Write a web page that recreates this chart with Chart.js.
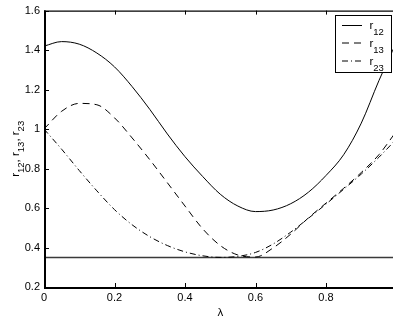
<!DOCTYPE html>
<html><head><meta charset="utf-8">
<script src="https://cdn.jsdelivr.net/npm/chart.js@4/dist/chart.umd.min.js"></script>
<style>html,body{margin:0;padding:0;background:#fff;overflow:hidden}</style>
</head><body>
<canvas id="c" width="393" height="320"></canvas>
<script>
const lambda = [0,0.05,0.1,0.15,0.2,0.25,0.3,0.35,0.4,0.45,0.5,0.55,0.6,0.65,0.7,0.75,0.8,0.85,0.9,0.95,1.0];
const r12 = [1.42,1.443,1.43,1.385,1.315,1.215,1.1,0.975,0.86,0.76,0.67,0.61,0.582,0.59,0.622,0.68,0.765,0.87,1.03,1.245,1.44];
const r13 = [1.0,1.09,1.13,1.123,1.057,0.955,0.845,0.728,0.61,0.495,0.41,0.362,0.352,0.398,0.468,0.55,0.625,0.70,0.78,0.87,0.99];
const r23 = [1.0,0.898,0.79,0.687,0.592,0.515,0.455,0.41,0.378,0.358,0.35,0.355,0.375,0.418,0.478,0.548,0.62,0.695,0.772,0.857,0.95];
const thresholdX = [0, 1];
const thresholdY = [0.35, 0.35];
const xTicks = [0, 0.2, 0.4, 0.6, 0.8];
const xTickLabels = ['0', '0.2', '0.4', '0.6', '0.8'];
const yTicks = [0.2, 0.4, 0.6, 0.8, 1.0, 1.2, 1.4, 1.6];
const yTickLabels = ['0.2', '0.4', '0.6', '0.8', '1', '1.2', '1.4', '1.6'];
const seriesNames = [['r', '12'], ['r', '13'], ['r', '23']];
const xTitle = 'λ';

const FONT = '"Liberation Sans", Arial, Helvetica, sans-serif';
const dashes = [[], [7, 5], [6, 3, 1, 3]];
const seriesData = [r12, r13, r23];

const datasets = seriesData.map((s, k) => ({
  label: seriesNames[k].join(''),
  data: lambda.map((x, i) => ({x, y: s[i]})),
  borderColor: '#000', borderWidth: 1, borderDash: dashes[k],
  pointRadius: 0, cubicInterpolationMode: 'monotone', fill: false
}));
datasets.push({
  label: 'threshold',
  data: thresholdX.map((x, i) => ({x, y: thresholdY[i]})),
  borderColor: '#3a3a3a', borderWidth: 1.5, pointRadius: 0, tension: 0, fill: false
});

function drawSub(ctx, parts, x, y, mainSize, subSize, subDrop) {
  let cx = x;
  for (const [txt, sub] of parts) {
    ctx.font = (sub ? subSize : mainSize) + 'px ' + FONT;
    ctx.fillText(txt, cx, y + (sub ? subDrop : 0));
    cx += ctx.measureText(txt).width;
  }
  return cx - x;
}
function measureSub(ctx, parts, mainSize, subSize) {
  let w = 0;
  for (const [txt, sub] of parts) {
    ctx.font = (sub ? subSize : mainSize) + 'px ' + FONT;
    w += ctx.measureText(txt).width;
  }
  return w;
}

const decor = {
  id: 'decor',
  afterDraw(chart) {
    const {ctx, chartArea: a, scales: {x, y}} = chart;
    ctx.save();
    ctx.strokeStyle = '#000';
    ctx.lineWidth = 1.3;
    ctx.beginPath(); ctx.moveTo(a.left, a.top + 0.5); ctx.lineTo(a.right, a.top + 0.5); ctx.stroke();
    ctx.lineWidth = 2;
    ctx.beginPath(); ctx.moveTo(a.left + 1, a.top); ctx.lineTo(a.left + 1, a.bottom + 1); ctx.lineTo(a.right, a.bottom + 1); ctx.stroke();
    ctx.lineWidth = 1;
    ctx.beginPath();
    xTicks.forEach(v => {
      const px = Math.round(x.getPixelForValue(v)) + 0.5;
      ctx.moveTo(px, a.bottom); ctx.lineTo(px, a.bottom - 4);
      ctx.moveTo(px, a.top); ctx.lineTo(px, a.top + 4);
    });
    yTicks.forEach(v => {
      const py = Math.round(y.getPixelForValue(v)) + 0.5;
      ctx.moveTo(a.left, py); ctx.lineTo(a.left + 5, py);
    });
    ctx.stroke();

    const lx = 335.5, ly = 15.5, lw = 56, lh = 57;
    ctx.fillStyle = '#fff';
    ctx.fillRect(lx, ly, lw, lh);
    ctx.lineWidth = 1;
    ctx.strokeRect(lx, ly, lw, lh);
    const rowY = [25.5, 43, 61];
    seriesNames.forEach((nm, k) => {
      ctx.setLineDash(dashes[k]);
      ctx.beginPath(); ctx.moveTo(342, rowY[k]); ctx.lineTo(362, rowY[k]); ctx.stroke();
      ctx.setLineDash([]);
      ctx.fillStyle = '#000';
      ctx.textBaseline = 'alphabetic'; ctx.textAlign = 'left';
      drawSub(ctx, [[nm[0], false], [nm[1], true]], 369.5, rowY[k] + 3.5, 11.5, 9.5, 6);
    });

    const parts = [];
    seriesNames.forEach((nm, k) => {
      parts.push([nm[0], false]); parts.push([nm[1], true]);
      if (k < seriesNames.length - 1) parts.push([', ', false]);
    });
    ctx.save();
    ctx.translate(18.5, (a.top + a.bottom) / 2);
    ctx.rotate(-Math.PI / 2);
    const tw = measureSub(ctx, parts, 11.5, 9.5);
    ctx.fillStyle = '#000';
    drawSub(ctx, parts, -tw / 2, 0, 11.5, 9.5, 5);
    ctx.restore();

    ctx.font = '11.5px ' + FONT;
    ctx.textAlign = 'center'; ctx.textBaseline = 'middle';
    ctx.fillStyle = '#000';
    ctx.fillText(xTitle, x.getPixelForValue(0.5), 313);
    ctx.restore();
  }
};

new Chart(document.getElementById('c'), {
  type: 'line',
  data: {datasets},
  options: {
    responsive: false, animation: false,
    layout: {padding: {top: 10, right: 0, left: 0, bottom: 0}},
    plugins: {legend: {display: false}, tooltip: {enabled: false}},
    scales: {
      x: {
        type: 'linear', min: 0, max: 0.99,
        afterBuildTicks: s => { s.ticks = xTicks.map(v => ({value: v})); },
        afterFit: s => { s.height = 33; },
        ticks: {callback: (v, i) => xTickLabels[i], color: '#000', font: {family: FONT, size: 11}, padding: 4, maxRotation: 0, autoSkip: false},
        grid: {display: false, drawTicks: false},
        border: {display: false}
      },
      y: {
        type: 'linear', min: 0.2, max: 1.6,
        afterBuildTicks: s => { s.ticks = yTicks.map(v => ({value: v})); },
        afterFit: s => { s.width = 44; },
        ticks: {callback: (v, i) => yTickLabels[i], color: '#000', font: {family: FONT, size: 11}, padding: 4, autoSkip: false},
        grid: {display: false, drawTicks: false},
        border: {display: false}
      }
    }
  },
  plugins: [decor]
});
</script>
</body></html>
